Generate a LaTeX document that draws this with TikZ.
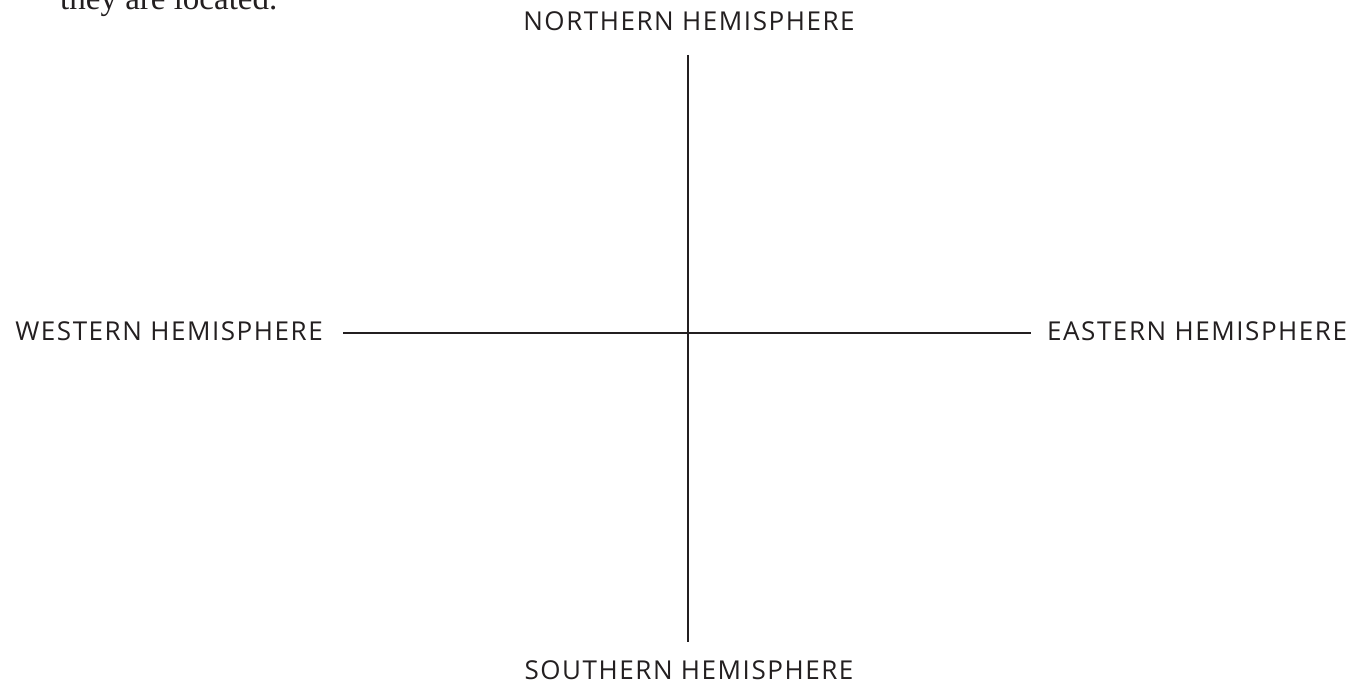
\documentclass[tikz,border=0pt]{standalone}
\usepackage{fontspec}
\setmainfont{Liberation Serif}
\newfontfamily\labelfont[LetterSpace=6]{Open Sans}
\definecolor{ink}{HTML}{231F20}
\begin{document}
\begin{tikzpicture}[x=1pt,y=1pt,
  hemi/.style={font=\labelfont\fontsize{26}{28}\selectfont, text=ink, inner sep=0pt},
  axis/.style={draw=ink, line width=2.8pt}]
\clip (0,0) rectangle (1366,684);
\fill[white] (0,0) rectangle (1366,684);
% cut-off text at the top
\node[anchor=base west, inner sep=0pt, text=ink, font=\fontsize{33}{36}\selectfont] (intro) at (60,674) {they are located.};
% axes
\coordinate (n) at (688,629);
\coordinate (s) at (688,42);
\coordinate (w) at (343,351);
\coordinate (e) at (1031,351);
\draw[axis] (n) -- (s);
\draw[axis] (w) -- (e);
% labels
\node[hemi, anchor=base] (north) at (689,653) {NORTHERN HEMISPHERE};
\node[hemi, anchor=base] (south) at (689,4) {SOUTHERN HEMISPHERE};
\node[hemi, anchor=base east] (west) at (323,343) {WESTERN HEMISPHERE};
\node[hemi, anchor=base west] (east) at (1047,343) {EASTERN HEMISPHERE};
\end{tikzpicture}
\end{document}
